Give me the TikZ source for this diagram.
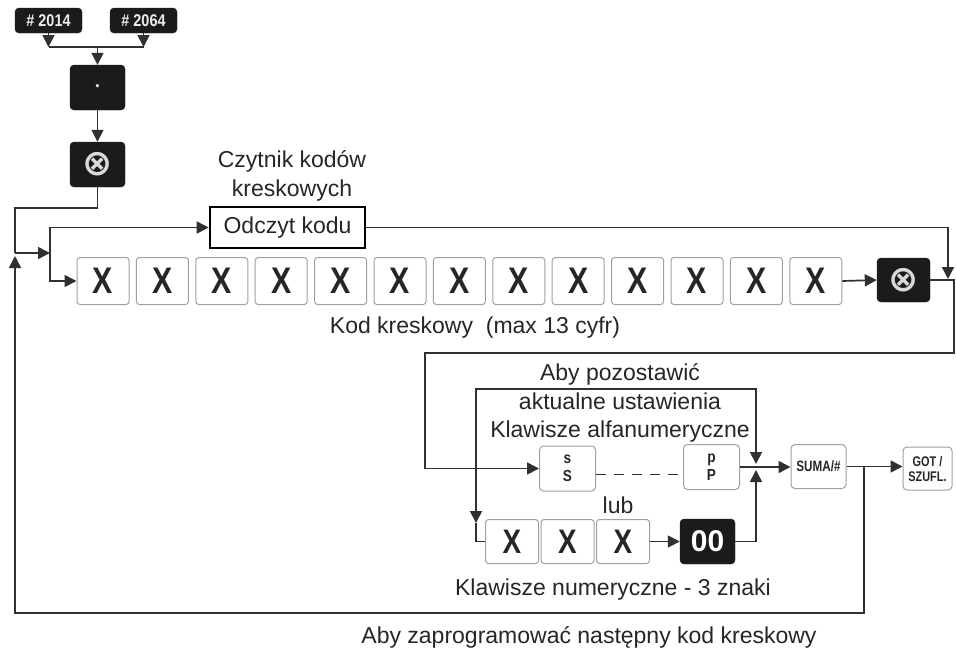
\documentclass[tikz,border=0pt]{standalone}
\usepackage{fontspec}
\usepackage{graphicx}
\setmainfont{Liberation Sans}
\newfontfamily\symfont{DejaVu Sans}
\usetikzlibrary{arrows.meta}
\definecolor{ln}{HTML}{303030}
\definecolor{keyb}{HTML}{A0A0A0}
\definecolor{darkbox}{HTML}{1B1B1B}
\definecolor{txt}{HTML}{262626}
\newcommand\bigX{\scalebox{0.82}[1]{X}}
\newcommand\kf[1]{\scalebox{0.85}[1]{#1}}
\newcommand\oxsym{{\symfont\fontsize{36}{36}\selectfont\textcolor{gray!30}{⊗}}}
\tikzset{
  conn/.style={draw=ln, line width=1.7pt},
  arr/.style={conn, -{Triangle[length=12pt,width=12pt]}},
  lbl/.style={text=txt, font=\fontsize{23}{28.5}\selectfont, align=center, inner sep=0pt},
  xkey/.style={draw=keyb, line width=1pt, rounded corners=3pt, fill=white, inner sep=0pt, text=txt, font=\fontsize{37}{37}\selectfont\bfseries},
  fkey/.style={draw=keyb, line width=1pt, rounded corners=4pt, fill=white, inner sep=0pt, text=txt, font=\fontsize{16}{18}\selectfont\bfseries, align=center},
  dkey/.style={fill=darkbox, draw=darkbox, rounded corners=4pt, inner sep=0pt, text=white, font=\bfseries},
}
\begin{document}
\begin{tikzpicture}[x=1pt,y=-1pt]
\useasboundingbox[fill=white] (0,0) rectangle (956,651);

% top keys
\node[dkey, minimum width=67pt, minimum height=25pt, font=\fontsize{17}{17}\selectfont\bfseries, text=gray!15] (h2014) at (48.5,20.5) {\kf{\# 2014}};
\node[dkey, minimum width=67pt, minimum height=25pt, font=\fontsize{17}{17}\selectfont\bfseries, text=gray!15] (h2064) at (143.5,20.5) {\kf{\# 2064}};
\node[dkey, minimum width=55pt, minimum height=45pt] (dotk) at (97.5,87.5) {{\symfont\fontsize{9}{9}\selectfont\textcolor{gray!20}{•}}};
\node[dkey, minimum width=55pt, minimum height=45pt] (ox1) at (97.5,164.5) {\oxsym};

\coordinate (jA) at (48.5,47);
\coordinate (jB) at (143.5,47);
\coordinate (jM) at (97.5,47);
\draw[arr] (h2014.south) -- (jA);
\draw[arr] (h2064.south) -- (jB);
\draw[conn] (jA) -- (jB);
\draw[arr] (jM) -- (dotk.north);
\draw[arr] (dotk.south) -- (ox1.north);

% reader
\node[lbl] (czyt) at (292,176) {Czytnik kodów\\kreskowych};
\node[draw=black, line width=2.6pt, minimum width=155pt, minimum height=41pt, inner sep=0pt, lbl] (odczyt) at (287.5,227.5) {Odczyt kodu};

% barcode digits
\foreach \i in {0,...,12} {
  \node[xkey, minimum width=52pt, minimum height=47pt] (x\i) at ({103+\i*59.4},281) {\bigX};
}
\node[lbl] (kodlbl) at (475,328) {Kod kreskowy\ \ (max 13 cyfr)};
\node[dkey, minimum width=53pt, minimum height=44pt] (ox2) at (903.5,280) {\oxsym};

% left connections
\coordinate (lA) at (15,208);
\coordinate (lB) at (15,253);
\coordinate (lC) at (50,253);
\draw[conn] (ox1.south) |- (lA) -- (lB);
\draw[arr] (lB) -- (lC);
\draw[arr] (lC) |- (odczyt.west);
\draw[arr] (lC) |- (x0.west);
\draw[arr] (x12.east) -- (ox2.west);

% right connections
\coordinate (rDrop) at (948,279);
\coordinate (rC1) at (954,280);
\coordinate (rC2) at (954,353);
\coordinate (lm) at (425,353);
\draw[arr] (odczyt.east) -| (rDrop);

% alphanumeric keys
\node[lbl] (alfalbl) at (620,403) {Aby pozostawić\\aktualne ustawienia\\Klawisze alfanumeryczne};
\node[fkey, minimum width=56pt, minimum height=45pt] (sS) at (567.5,468.5) {\kf{s}\\\kf{S}};
\node[fkey, minimum width=56pt, minimum height=45pt] (pP) at (711.5,467) {\kf{p}\\\kf{P}};
\node[fkey, minimum width=55pt, minimum height=44pt, font=\fontsize{15}{15}\selectfont\bfseries] (suma) at (818.5,466.5) {\scalebox{0.78}[1]{SUMA/\#}};
\node[fkey, minimum width=49pt, minimum height=43pt, font=\fontsize{14}{15}\selectfont\bfseries] (got) at (927.5,468.5) {\scalebox{0.78}[1]{GOT /}\\\scalebox{0.78}[1]{SZUFL.}};

\draw[arr] (ox2.east) -- (rC1) -- (rC2) -- (lm) |- (sS.west);
\draw[conn, dash pattern=on 10pt off 8pt] ([yshift=-6pt]sS.east) -- ([yshift=-6pt]sS.east -| pP.west);

\coordinate (jL) at (476,468.5);
\coordinate (tl) at (476,389);
\coordinate (tr) at (756,389);
\coordinate (mJt) at (756,464);
\coordinate (mJ) at (756,467);
\coordinate (mJb) at (756,470);
\coordinate (lD) at (476,523);
\coordinate (lE) at (476,541.5);
\draw[arr] (jL) -- (tl) -- (tr) -- (mJt);
\draw[conn] (pP.east) -- (mJ);
\draw[arr] (mJ) -- (mJ -| suma.west);
\draw[arr] (suma.east) -- (suma.east -| got.west);

% numeric keys
\node[lbl] (lub) at (618,505) {lub};
\node[xkey, minimum width=53pt, minimum height=44pt, font=\fontsize{34}{34}\selectfont\bfseries] (n0) at (512,541.5) {\bigX};
\node[xkey, minimum width=53pt, minimum height=44pt, font=\fontsize{34}{34}\selectfont\bfseries] (n1) at (567.5,541.5) {\bigX};
\node[xkey, minimum width=53pt, minimum height=44pt, font=\fontsize{34}{34}\selectfont\bfseries] (n2) at (623,541.5) {\bigX};
\node[dkey, minimum width=55pt, minimum height=45pt, font=\fontsize{30}{30}\selectfont\bfseries] (zz) at (707.5,541.5) {00};
\node[lbl] (numlbl) at (613,590) {Klawisze numeryczne - 3 znaki};

\draw[arr] (jL) -- (lD);
\draw[conn] (lD) -- (lE) -- (n0.west);
\draw[arr] (n2.east) -- (zz.west);
\draw[arr] (zz.east) -| (mJb);

% loop back
\coordinate (bS) at (864,466.5);
\coordinate (bB) at (864,613);
\coordinate (bL) at (15,613);
\coordinate (lUp) at (15,256);
\draw[arr] (bS) -- (bB) -- (bL) -- (lUp);
\node[lbl] (botlbl) at (589,637) {Aby zaprogramować następny kod kreskowy};
\end{tikzpicture}
\end{document}
